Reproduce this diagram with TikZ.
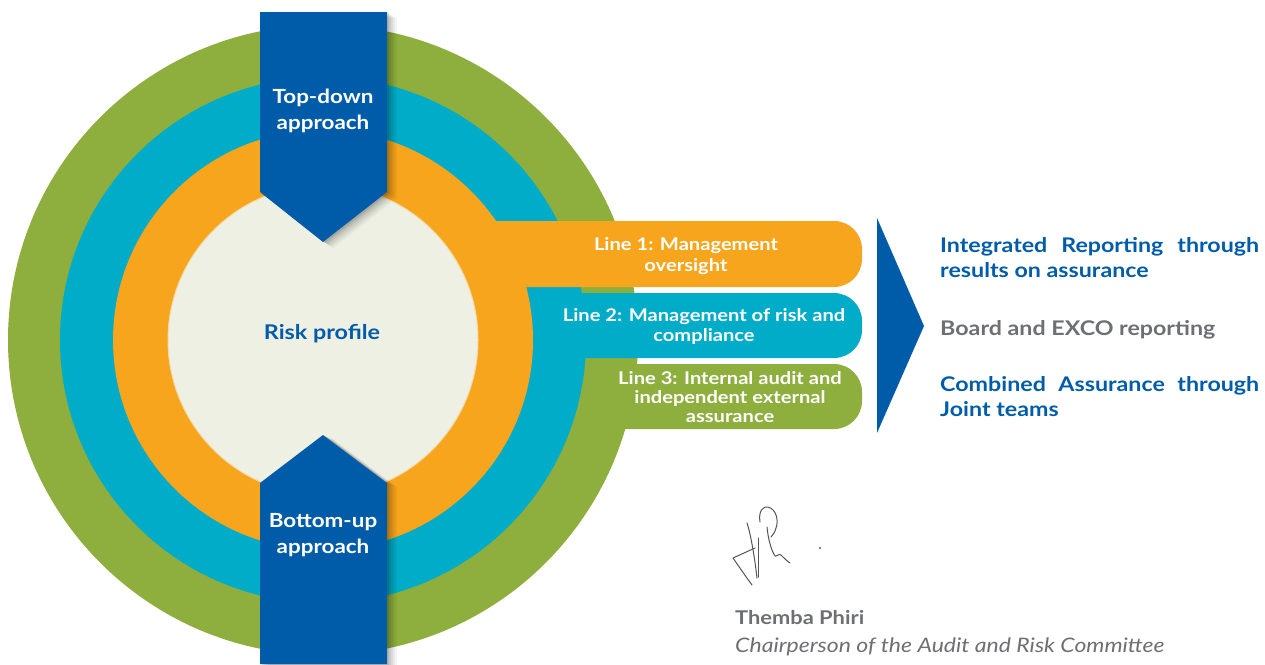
\documentclass[tikz,border=0pt]{standalone}
\usepackage{fontspec}
\setmainfont{Lato}[FakeStretch=1.15]
\definecolor{cgreen}{HTML}{8EAF3D}
\definecolor{ccyan}{HTML}{00ACC7}
\definecolor{corange}{HTML}{F7A51D}
\definecolor{cblue}{HTML}{005CA9}
\definecolor{cinner}{HTML}{EEF0E4}
\definecolor{crim}{HTML}{F2D9A8}
\definecolor{cgray}{HTML}{6E6F72}
\definecolor{csig}{HTML}{555555}
\tikzset{
  bartext/.style={white, font=\bfseries\fontsize{17.5}{21}\selectfont, align=center, inner sep=0pt},
  bluetext/.style={white, font=\bfseries\fontsize{19.5}{26}\selectfont, align=center, inner sep=0pt},
  outtext/.style={anchor=base west, inner sep=0pt, font=\bfseries\fontsize{20.2}{25}\selectfont},
  sigline/.style={csig, line width=1pt, line cap=round, line join=round}
}
\begin{document}
\begin{tikzpicture}[x=1pt,y=-1pt]
\useasboundingbox (0,0) rectangle (1265,664);
% rings and bars
\fill[cgreen] (323,340) circle (315pt);
\fill[cgreen, rounded corners=28pt] (323,364) rectangle (862,429);
\fill[ccyan] (323,340) circle (263pt);
\fill[ccyan, rounded corners=28pt] (323,293) rectangle (862,358);
\fill[corange] (323,340) circle (210pt);
\fill[corange, rounded corners=28pt] (323,221) rectangle (862,287);
\filldraw[fill=cinner, draw=crim, line width=1pt] (323,340) circle (155pt);
% shadows of blue bars
\foreach \s/\o in {10/0.04,8/0.05,6/0.06,4/0.08,2/0.1}{
  \fill[black, opacity=\o] ([shift={(\s,\s*0.6)}]260,12) -- ++(127,0) -- ++(0,180) -- ++(-64,50) -- ++(-63,-50) -- cycle;
  \fill[black, opacity=\o] ([shift={(\s,\s*0.4)}]260,664) -- ++(0,-181) -- ++(63,-48) -- ++(64,48) -- ++(0,181) -- cycle;
}
% blue bars
\fill[cblue] (260,12) -- (387,12) -- (387,192) -- (323,242) -- (260,192) -- cycle;
\fill[cblue] (260,664) -- (260,483) -- (323,435) -- (387,483) -- (387,664) -- cycle;
% big triangle
\fill[cblue] (877,218) -- (924,326) -- (877,433) -- cycle;
% texts
\node[bluetext] (td) at (323,111) {Top-down\\approach};
\node[bluetext] (bu) at (323,535) {Bottom-up\\approach};
\node[cblue, font=\bfseries\fontsize{20.3}{24}\selectfont, inner sep=0pt] (rp) at (322,334) {Risk profile};
\node[bartext] (l1) at (686,256) {Line 1: Management\\oversight};
\node[bartext, font=\bfseries\fontsize{17.5}{20}\selectfont] (l2) at (704,326) {Line 2: Management of risk and\\compliance};
\node[bartext, font=\bfseries\fontsize{17.5}{19}\selectfont] (l3) at (730,397) {Line 3: Internal audit and\\independent external\\assurance};
\node[outtext, cblue] (ir1) at (940,252) {\makebox[319pt][s]{Integrated Reporting through}};
\node[outtext, cblue] (ir2) at (940,277) {results on assurance};
\node[outtext, cgray] (bx) at (940,335) {Board and EXCO reporting};
\node[outtext, cblue] (ca1) at (940,391) {\makebox[319pt][s]{Combined Assurance through}};
\node[outtext, cblue] (ca2) at (940,416) {Joint teams};
% signature
\draw[sigline] (747,523) .. controls (751,535) and (755,560) .. (757,578);
\draw[sigline] (755,548) -- (733,558) .. controls (740,568) and (746,577) .. (752,585);
\draw[sigline] (758,538) .. controls (758,550) and (758,565) .. (758,577);
\draw[sigline] (760,522) .. controls (758,510) and (764,506) .. (768,507) .. controls (776,509) and (779,520) .. (776,528) .. controls (775,532) and (773,535) .. (771,537);
\draw[sigline] (767,527) .. controls (768,538) and (771,550) .. (775,556) .. controls (777,557) and (779,553) .. (781,555) .. controls (784,558) and (787,561) .. (790,563);
\fill[csig] (820,548) circle (1.2pt);
\node[anchor=base west, inner sep=0pt, cgray, font=\bfseries\fontsize{19}{23}\selectfont] (name) at (735,624) {Themba Phiri};
\node[anchor=base west, inner sep=0pt, cgray, font=\itshape\fontsize{20}{23}\selectfont] (role) at (735,652) {Chairperson of the Audit and Risk Committee};
\end{tikzpicture}
\end{document}
